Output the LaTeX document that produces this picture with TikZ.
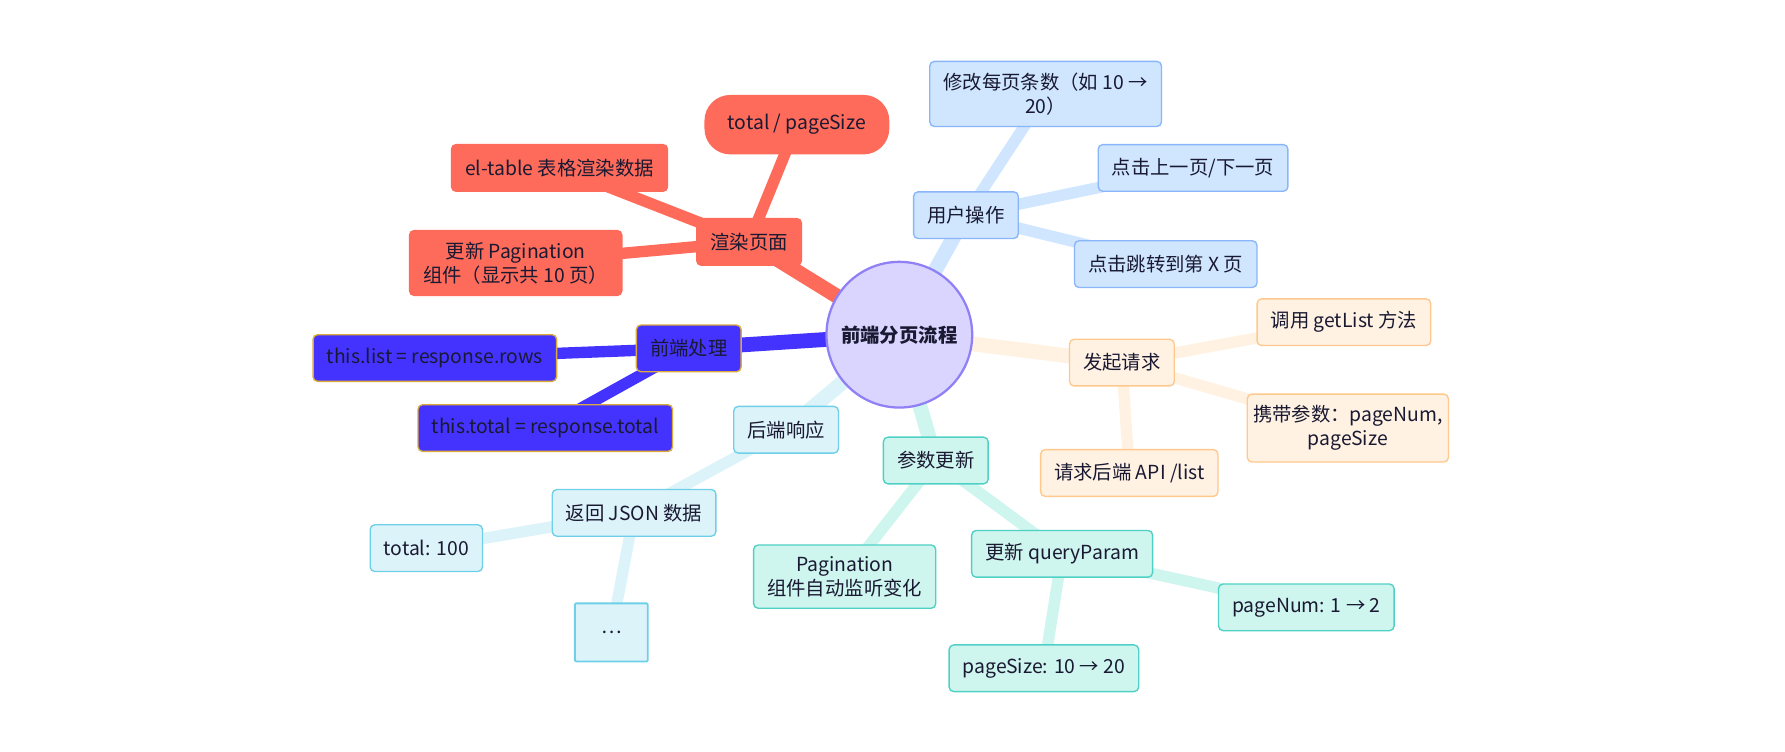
\documentclass[tikz,border=0pt]{standalone}
\usepackage{fontspec}
\setmainfont{Noto Sans CJK SC}

\pgfdeclarelayer{background}
\pgfsetlayers{background,main}

\begin{document}
\begin{tikzpicture}[x=0.5pt,y=-0.5pt,
  box/.style={rounded corners=2pt,line width=0.6pt,inner xsep=6pt,inner ysep=5pt,
    minimum height=20.5pt,align=center,text=node_text,font=\fontsize{8.5}{10.5}\selectfont},
  trunk/.style={line width=6.5pt},
  twig/.style={line width=5pt}]
%\draw[gray] (0,0) grid[step=100] (1568,660);

\definecolor{node_text}{RGB}{25,25,50}
\definecolor{root_fill}{RGB}{218,213,255}
\definecolor{root_line}{RGB}{143,128,245}
\definecolor{render_fill}{RGB}{255,107,90}
\definecolor{front_fill}{RGB}{68,51,255}
\definecolor{front_line}{RGB}{220,170,60}
\definecolor{user_fill}{RGB}{208,230,255}
\definecolor{user_line}{RGB}{138,182,249}
\definecolor{request_fill}{RGB}{255,242,227}
\definecolor{request_line}{RGB}{255,200,140}
\definecolor{backend_fill}{RGB}{221,243,250}
\definecolor{backend_line}{RGB}{110,208,232}
\definecolor{param_fill}{RGB}{207,245,239}
\definecolor{param_line}{RGB}{78,209,196}

\useasboundingbox (0,0) rectangle (1568,660);

\node[circle,fill=root_fill,draw=root_line,line width=1pt,minimum size=64pt,inner sep=0pt,
  text=node_text,font=\fontsize{8.5}{10.5}\selectfont\bfseries] (root) at (790,294) {前端分页流程};

% render
\node[box,fill=render_fill,draw=render_fill] (render_page) at (658,212.5) {渲染页面};
\node[box,fill=render_fill,draw=render_fill,rounded corners=11pt,minimum height=25.5pt,inner xsep=10pt] (total_pages) at (700,109.5) {total / pageSize};
\node[box,fill=render_fill,draw=render_fill] (el_table) at (491.5,147.5) {el-table 表格渲染数据};
\node[box,fill=render_fill,draw=render_fill] (update_pager) at (453,231) {更新 Pagination\\组件（显示共 10 页）};

% front end
\node[box,fill=front_fill,draw=front_line] (front_end) at (605,306) {前端处理};
\node[box,fill=front_fill,draw=front_line] (set_list) at (382,314.5) {this.list = response.rows};
\node[box,fill=front_fill,draw=front_line] (set_total) at (479,376) {this.total = response.total};

% user
\node[box,fill=user_fill,draw=user_line] (user_op) at (848.5,189) {用户操作};
\node[box,fill=user_fill,draw=user_line] (page_size) at (918.5,82.5) {修改每页条数（如 10 →\\20）};
\node[box,fill=user_fill,draw=user_line] (prev_next) at (1048,147.5) {点击上一页/下一页};
\node[box,fill=user_fill,draw=user_line] (jump_to) at (1024,232) {点击跳转到第 X 页};

% request
\node[box,fill=request_fill,draw=request_line] (request) at (985.5,318.5) {发起请求};
\node[box,fill=request_fill,draw=request_line] (get_list) at (1180.5,283) {调用 getList 方法};
\node[box,fill=request_fill,draw=request_line,inner xsep=2.5pt] (carry) at (1184,376) {携带参数：pageNum,\\pageSize};
\node[box,fill=request_fill,draw=request_line] (call_api) at (992,415.5) {请求后端 API /list};

% backend
\node[box,fill=backend_fill,draw=backend_line] (backend) at (690.5,377.5) {后端响应};
\node[box,fill=backend_fill,draw=backend_line] (json) at (557,450.5) {返回 JSON 数据};
\node[box,fill=backend_fill,draw=backend_line] (total_hundred) at (374.5,481.5) {total: 100};
\node[box,fill=backend_fill,draw=backend_line,line width=0.8pt,rounded corners=0.5pt,minimum width=32pt,minimum height=25.5pt] (more_fields) at (537,555.5) {…};

% params
\node[box,fill=param_fill,draw=param_line] (param) at (822,404.5) {参数更新};
\node[box,fill=param_fill,draw=param_line] (watch) at (742,506.5) {Pagination\\组件自动监听变化};
\node[box,fill=param_fill,draw=param_line] (query) at (933,486.5) {更新 queryParam};
\node[box,fill=param_fill,draw=param_line] (page_num) at (1147.5,533.5) {pageNum: 1 → 2};
\node[box,fill=param_fill,draw=param_line] (size_change) at (917,587) {pageSize: 10 → 20};

\begin{pgfonlayer}{background}
\foreach \branch/\col in {render_page/render_fill,front_end/front_fill,user_op/user_fill,request/request_fill,backend/backend_fill,param/param_fill}{
\draw[trunk,\col] (root.center) -- (\branch.center);
}
\foreach \from/\to/\col in {render_page/total_pages/render_fill,render_page/el_table/render_fill,render_page/update_pager/render_fill,
  front_end/set_list/front_fill,front_end/set_total/front_fill,
  user_op/page_size/user_fill,user_op/prev_next/user_fill,user_op/jump_to/user_fill,
  request/get_list/request_fill,request/carry/request_fill,request/call_api/request_fill,
  backend/json/backend_fill,json/total_hundred/backend_fill,json/more_fields/backend_fill,
  param/watch/param_fill,param/query/param_fill,query/page_num/param_fill,query/size_change/param_fill}{
\draw[twig,\col] (\from.center) -- (\to.center);
}
\end{pgfonlayer}

\end{tikzpicture}
\end{document}
